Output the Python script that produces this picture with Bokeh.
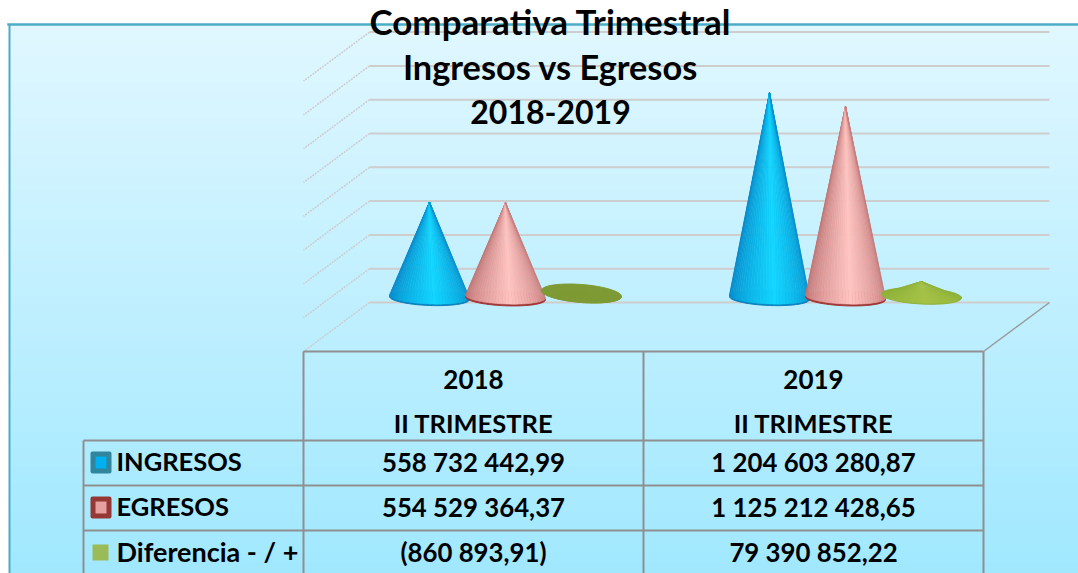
import math
from bokeh.plotting import figure
from bokeh.models import Range1d
from bokeh.core.properties import value
from bokeh.embed import file_html
from bokeh.resources import INLINE

# ---- data ----
years = ["2018", "2019"]
periods = ["II TRIMESTRE", "II TRIMESTRE"]
series_names = ["INGRESOS", "EGRESOS", "Diferencia - / +"]
ingresos = [558732442.99, 1204603280.87]
egresos = [554529364.37, 1125212428.65]
diferencia = [-860893.91, 79390852.22]
grid_ticks = [0, 200e6, 400e6, 600e6, 800e6, 1000e6, 1200e6, 1400e6, 1600e6]
title_lines = ["Comparativa Trimestral", "Ingresos vs Egresos", "2018-2019"]

# ---- layout in page pixels ----
W, H, M = 1078, 573, 0
X0, X1 = M, M + W
Y0, Y1 = M, M + H
Y_ZERO = 302.0          # back wall y of value 0
PX_PER_UNIT = 33.8 / 200e6
FONT = value("Lato")


def to_val(py):
    return (Y_ZERO - py) / PX_PER_UNIT


p = figure(width=W, height=H, output_backend="svg", toolbar_location=None,
           x_range=Range1d(X0, X1), y_range=Range1d(to_val(Y1), to_val(Y0)),
           x_axis_type=None, y_axis_type=None, min_border=0,
           background_fill_color="white", border_fill_color="white",
           outline_line_color=None)
p.grid.visible = False
p.extra_y_ranges = {"px": Range1d(Y1, Y0)}


def mix(a, b, t):
    return "#%02x%02x%02x" % tuple(round(a[i] + (b[i] - a[i]) * t) for i in range(3))


# background gradient
TOP, BOT = (224, 247, 255), (160, 232, 255)
FRAME_L, FRAME_T = 10, 25
ys = list(range(FRAME_T, Y1, 3))
p.quad(left=FRAME_L, right=X1, top=ys, bottom=[y + 3 for y in ys], y_range_name="px",
       fill_color=[mix(TOP, BOT, (y - FRAME_T) / (573 - FRAME_T)) for y in ys],
       line_color=[mix(TOP, BOT, (y - FRAME_T) / (573 - FRAME_T)) for y in ys], line_width=1)
# frame
p.line([8, X1], [24, 24], y_range_name="px", line_color="#4BACC6", line_width=2.5, line_cap="square")
p.line([9, 9], [24, Y1], y_range_name="px", line_color="#4BACC6", line_width=2)

# 3-D wall and floor
BACK_L, BACK_R, FRONT_L, FRONT_R = 369, 1049, 303, 983
DEPTH_PX = 49
GRID_C = "#CDCDCD"
p.segment(x0=BACK_L, x1=BACK_R, y0=grid_ticks, y1=grid_ticks, line_color=GRID_C, line_width=2)
p.segment(x0=BACK_L, x1=FRONT_L, y0=grid_ticks,
          y1=[v - DEPTH_PX / PX_PER_UNIT for v in grid_ticks],
          line_color=GRID_C, line_width=1.5, line_dash="2 1")
p.line([BACK_R, FRONT_R], [0, -DEPTH_PX / PX_PER_UNIT], line_color="#9A9A9A", line_width=1.5)


# cones
GROUP_X = [505, 845]
SERIES_DX = [-76, 0, 76]
RX = 40
BASE_PX = 296.0
STYLES = [
    dict(edge=(6, 130, 196), mid=(18, 214, 255), rim="#0A80BC", ry=7.5, drop=1.5),
    dict(edge=(186, 110, 110), mid=(255, 196, 192), rim="#A03636", ry=7.5, drop=1.8),
]


def cone(cx, v, st, base_py=BASE_PX, tilt=-1.5):
    n = 36
    base_y = to_val(base_py)
    ry = st["ry"] / PX_PER_UNIT
    tl = tilt / PX_PER_UNIT
    # rim ellipse under the cone
    ex, ey = [], []
    for i in range(60):
        a = 2 * math.pi * i / 60
        ex.append(cx + RX * math.cos(a))
        ey.append(base_y - (st["drop"] / PX_PER_UNIT) + ry * math.sin(a) + tl * math.cos(a))
    p.patch(ex, ey, fill_color=st["rim"], line_color=st["rim"], line_width=1)
    xs, yy, cols = [], [], []
    for i in range(n):
        a0 = math.pi * (1 - i / n)
        a1 = math.pi * (1 - (i + 1) / n)
        t = abs(((i + .5) / n) - 0.54) / 0.54
        t = min(1, t) ** 1.0
        c = mix(st["mid"], st["edge"], t)
        xs.append([cx, cx + RX * math.cos(a0), cx + RX * math.cos(a1)])
        yy.append([base_y + v,
                   base_y - ry * math.sin(a0) + tl * math.cos(a0),
                   base_y - ry * math.sin(a1) + tl * math.cos(a1)])
        cols.append(c)
    p.patches(xs, yy, fill_color=cols, line_color=cols, line_width=0.6)


for g, gx in enumerate(GROUP_X):
    cone(gx + SERIES_DX[0], ingresos[g], STYLES[0])
    cone(gx + SERIES_DX[1], egresos[g], STYLES[1])

GREEN_NEG = dict(edge=(126, 154, 52), mid=(126, 154, 52), rim="#7E9A34", ry=9, drop=0)
GREEN_POS = dict(edge=(140, 176, 54), mid=(166, 194, 72), rim="#8FB23C", ry=8, drop=1)
for g, gx in enumerate(GROUP_X):
    d = diferencia[g]
    if d < 0:
        cone(gx + SERIES_DX[2], 0, GREEN_NEG, base_py=293, tilt=-3)
    else:
        cone(gx + SERIES_DX[2], d, GREEN_POS, base_py=294.5, tilt=-2)

# data table lines
TB = "#8F8F8F"
ROW_Y = [440, 485, 530]
COL_X = [303, 643, 983]
p.segment(x0=[FRONT_L], x1=[FRONT_R], y0=[351], y1=[351], y_range_name="px", line_color=TB, line_width=2)
p.segment(x0=[83] * 3, x1=[FRONT_R] * 3, y0=ROW_Y, y1=ROW_Y, y_range_name="px", line_color=TB, line_width=2)
p.segment(x0=COL_X, x1=COL_X, y0=[351] * 3, y1=[Y1] * 3, y_range_name="px", line_color=TB, line_width=2)
p.segment(x0=[83], x1=[83], y0=[440], y1=[Y1], y_range_name="px", line_color=TB, line_width=2)


def fmt(v):
    s = f"{abs(v):,.2f}".replace(",", " ").replace(".", ",")
    return f"({s})" if v < 0 else s


CELL_X = [473, 813]
TXT = dict(text_color="black", text_font=FONT, text_font_style="bold", y_range_name="px",
           text_baseline="middle")
p.text(x=CELL_X, y=[379, 379], text=years, text_align="center", text_font_size="26px", **TXT)
p.text(x=CELL_X, y=[422.5, 422.5], text=periods, text_align="center", text_font_size="25.5px", **TXT)
for vals, yy in zip([ingresos, egresos, diferencia], [461.5, 506.5, 551]):
    p.text(x=CELL_X, y=[yy, yy], text=[fmt(v) for v in vals], text_align="center",
           text_font_size="25.8px", **TXT)
for name, yy, fs in zip(series_names, [460.5, 505.5, 551], ["25.5px", "25.5px", "27px"]):
    p.text(x=[116], y=[yy], text=[name], text_align="left", text_font_size=fs, **TXT)

# legend keys
p.quad(left=[90], right=[111], top=[451], bottom=[473], y_range_name="px",
       fill_color="#31859C", line_color=None, border_radius=2)
p.quad(left=[95], right=[106], top=[456], bottom=[468], y_range_name="px",
       fill_color="#00B0F0", line_color=None)
p.quad(left=[90], right=[111], top=[496], bottom=[518], y_range_name="px",
       fill_color="#953735", line_color=None, border_radius=2)
p.quad(left=[95], right=[106], top=[501], bottom=[513], y_range_name="px",
       fill_color="#E6A0A0", line_color=None)
p.quad(left=[92], right=[108], top=[544], bottom=[560], y_range_name="px",
       fill_color="#9BBB59", line_color=None)

# title
for line, yy, fs in zip(title_lines, [20, 65.5, 111], ["35px", "34.3px", "32px"]):
    p.text(x=[550], y=[yy], text=[line], text_align="center", text_font_size=fs, **TXT)

open("out.html", "w").write(file_html(p, INLINE))
